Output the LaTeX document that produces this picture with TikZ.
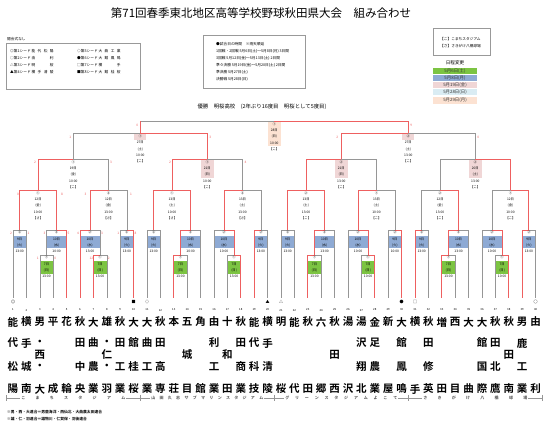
\documentclass[tikz,border=0pt]{standalone}
\usepackage{fontspec}
\setmainfont{Noto Sans CJK JP}[BoldFont=* Bold]
\usetikzlibrary{calc}
\definecolor{winRed}{RGB}{238,96,96}
\definecolor{lineGray}{RGB}{150,150,150}
\definecolor{dayGreen}{RGB}{124,196,66}
\definecolor{dayBlue}{RGB}{142,170,212}
\definecolor{dayPink}{RGB}{240,214,214}
\definecolor{dayCyan}{RGB}{218,236,243}
\definecolor{dayPeach}{RGB}{252,226,210}

\begin{document}
\begin{tikzpicture}[x=1pt, y=-1pt,
  lose/.style={draw=lineGray, line width=0.45pt},
  win/.style={draw=winRed, line width=0.9pt},
  card/.style={align=center, inner sep=0pt, anchor=north, font=\fontsize{3.3}{6.3}\selectfont},
  team/.style={inner sep=0pt, font=\fontsize{10.5}{11}\selectfont\bfseries},
  seedsym/.style={inner sep=0pt, font=\fontsize{4}{4}\selectfont},
  tnum/.style={inner sep=0pt, font=\fontsize{2.8}{3}\selectfont},
  legendtxt/.style={inner sep=0pt, anchor=west, font=\fontsize{3.7}{4}\selectfont},
  daybar/.style={inner sep=0pt, minimum width=44pt, minimum height=6.5pt, font=\fontsize{4.4}{5}\selectfont, text=black!80},
  venue/.style={fill=white, inner sep=1pt, font=\fontsize{4}{4}\selectfont\bfseries, text=black!70},
  frame/.style={draw=black!40, line width=0.4pt}
]
\useasboundingbox (0,0) rectangle (550,427);
\fill[white] (0,0) rectangle (550,427);

% title and notes
\node (title) at (261,13) {\fontsize{11.5}{12}\selectfont 第71回春季東北地区高等学校野球秋田県大会　組み合わせ};
\node[legendtxt] (noopen) at (7,39) {開会式なし};
\draw[frame] (6,43) rectangle (140,89);
\node[legendtxt] (seed1) at (10,51) {◎第1シード\ \makebox[22pt][s]{能\hfill 代\hfill 松\hfill 陽}};
\node[legendtxt] (seed2) at (10,58) {○第2シード\ \makebox[22pt][s]{由\hfill 利}};
\node[legendtxt] (seed3) at (10,65) {△第3シード\ \makebox[22pt][s]{明\hfill 桜}};
\node[legendtxt] (seed4) at (10,72) {▲第4シード\ \makebox[22pt][s]{横\hfill 手\hfill 清\hfill 陵}};
\node[legendtxt] (seed5) at (77,51) {◇第5シード\ \makebox[22pt][s]{大\hfill 曲\hfill 工\hfill 業}};
\node[legendtxt] (seed6) at (77,58) {●第6シード\ \makebox[22pt][s]{大\hfill 館\hfill 鳳\hfill 鳴}};
\node[legendtxt] (seed7) at (77,65) {□第7シード\ \makebox[22pt][s]{横\hfill 手}};
\node[legendtxt] (seed8) at (77,72) {■第8シード\ \makebox[22pt][s]{大\hfill 館\hfill 桂\hfill 桜}};

\draw[frame] (203,35) rectangle (305,88);
\node[legendtxt] (sched1) at (216,44) {●試合日の時間　※雨天順延};
\node[legendtxt] (sched2) at (216,51.5) {1回戦・2回戦 5月6日(土)～5月8日(月) 3日間};
\node[legendtxt] (sched3) at (216,58.5) {3回戦 5月12日(金)～5月13日(土) 2日間};
\node[legendtxt] (sched4) at (216,65.5) {準々決勝 5月19日(金)～5月20日(土) 2日間};
\node[legendtxt] (sched5) at (216,72.5) {準決勝 5月27日(土)};
\node[legendtxt] (sched6) at (216,79.5) {決勝戦 5月28日(日)};

\draw[frame] (433,28) rectangle (490,55);
\node[legendtxt] (ground1) at (440,39) {【こ】こまちスタジアム};
\node[legendtxt] (ground2) at (440,46) {【さ】さきがけ八橋球場};

\node[font=\fontsize{4.6}{5}\selectfont] (change) at (455,63) {日程変更};
\node[daybar, fill=dayGreen] (d6) at (455,70.8) {5月6日(土)};
\node[daybar, fill=dayBlue] (d8) at (455,77.8) {5月8日(月)};
\node[daybar, fill=dayPink] (d19) at (455,84.8) {5月19日(金)};
\node[daybar, fill=dayCyan] (d28) at (455,91.8) {5月28日(日)};
\node[daybar, fill=dayPeach] (d29) at (455,100.5) {5月29日(月)};

\node[font=\fontsize{5.4}{6}\selectfont] (champ) at (262,107) {優勝　明桜高校　(2年ぶり16度目　明桜として5度目)};

% colour bands of the early rounds
\foreach \l/\r in {13/26.4, 46.5/66.6, 80/100.1, 120.2/133.6, 147/160.4, 180.5/200.6, 214/234.1, 254.2/267.6,
                   281/294.4, 314.5/334.6, 348/368.1, 388.2/401.6, 415/428.4, 448.5/468.6, 482/502.1, 522.2/535.6}
  \fill[dayBlue] (\l,236.5) rectangle (\r,248);
\foreach \l in {39.8, 93.4, 173.8, 227.4, 307.8, 361.4, 441.8, 495.4}
  \fill[dayGreen] ({\l},261.5) rectangle ({\l+13.4},274.5);
\foreach \c in {207.3, 341.3, 475.3}
  \fill[dayPink] ({\c-6.5},159.6) rectangle ({\c+6.5},178.5);
\foreach \c in {140.3, 408.3}
  \fill[dayPink] ({\c-6},133.6) rectangle ({\c+6},140.5);
\fill[dayPeach] (267.8,121.6) rectangle (280.8,146.5);

% bracket points
\foreach \i in {1,...,40}
  \coordinate (t\i) at ({13+13.4*(\i-1)},298);
\foreach \n/\x in {1/46.5, 2/100.1, 3/180.5, 4/234.1, 5/314.5, 6/368.1, 7/448.5, 8/502.1}
  \coordinate (g\n) at (\x,255);
\foreach \n/\x in {1/19.7, 2/56.55, 3/90.05, 4/126.9, 5/153.7, 6/190.55, 7/224.05, 8/260.9,
                   9/287.7, 10/324.55, 11/358.05, 12/394.9, 13/421.7, 14/458.55, 15/492.05, 16/528.9}
  \coordinate (m\n) at (\x,230);
\foreach \n/\x in {1/38.1, 2/108.5, 3/172.1, 4/242.5, 5/306.1, 6/376.5, 7/440.1, 8/510.5}
  \coordinate (r\n) at (\x,190);
\foreach \n/\x in {1/73.3, 2/207.3, 3/341.3, 4/475.3}
  \coordinate (q\n) at (\x,159);
\coordinate (s1) at (140.3,133);
\coordinate (s2) at (408.3,133);
\coordinate (fin) at (274.3,121);

% first round
\draw[lose] (t3) |- (g1);  \draw[lose] (t4) |- (g1);
\draw[lose] (t8) |- (g2);  \draw[win] (t7) |- (g2);
\draw[lose] (t14) |- (g3); \draw[win] (t13) |- (g3);
\draw[lose] (t17) |- (g4); \draw[win] (t18) |- (g4);
\draw[lose] (t24) |- (g5); \draw[win] (t23) |- (g5);
\draw[lose] (t27) |- (g6); \draw[win] (t28) |- (g6);
\draw[lose] (t34) |- (g7); \draw[win] (t33) |- (g7);
\draw[lose] (t37) |- (g8); \draw[win] (t38) |- (g8);
% second round
\draw[lose] (t2) |- (m1);  \draw[lose] (t1) |- (m1);
\draw[lose] (g1) |- (m2);  \draw[win] (t5) |- (m2);
\draw[lose] (g2) |- (m3);  \draw[win] (t6) |- (m3);
\draw[lose] (t9) |- (m4);  \draw[win] (t10) |- (m4);
\draw[lose] (t12) |- (m5); \draw[lose] (t11) |- (m5);
\draw[lose] (t15) |- (m6); \draw[win] (g3) |- (m6);
\draw[lose] (t16) |- (m7); \draw[win] (g4) |- (m7);
\draw[lose] (t20) |- (m8); \draw[win] (t19) |- (m8);
\draw[lose] (t22) |- (m9); \draw[lose] (t21) |- (m9);
\draw[lose] (t25) |- (m10); \draw[win] (g5) |- (m10);
\draw[lose] (t26) |- (m11); \draw[win] (g6) |- (m11);
\draw[lose] (t29) |- (m12); \draw[win] (t30) |- (m12);
\draw[lose] (t32) |- (m13); \draw[win] (t31) |- (m13);
\draw[lose] (t35) |- (m14); \draw[win] (g7) |- (m14);
\draw[lose] (t36) |- (m15); \draw[win] (g8) |- (m15);
\draw[lose] (t40) |- (m16); \draw[win] (t39) |- (m16);
% third round
\draw[win] (m1) |- (r1);   \draw[win] (m2) |- (r1);
\draw[lose] (m4) |- (r2);  \draw[win] (m3) |- (r2);
\draw[win] (m5) |- (r3);   \draw[win] (m6) |- (r3);
\draw[lose] (m8) |- (r4);  \draw[win] (m7) |- (r4);
\draw[win] (m10) |- (r5);  \draw[win] (m9) |- (r5);
\draw[lose] (m12) |- (r6); \draw[win] (m11) |- (r6);
\draw[lose] (m13) |- (r7); \draw[win] (m14) |- (r7);
\draw[lose] (m15) |- (r8); \draw[win] (m16) |- (r8);
% quarter finals
\draw[lose] (r2) |- (q1); \draw[win] (r1) |- (q1);
\draw[lose] (r4) |- (q2); \draw[win] (r3) |- (q2);
\draw[lose] (r6) |- (q3); \draw[win] (r5) |- (q3);
\draw[lose] (r7) |- (q4); \draw[win] (r8) |- (q4);
% semi finals and final
\draw[lose] (q1) |- (s1); \draw[win] (q2) |- (s1);
\draw[lose] (q4) |- (s2); \draw[win] (q3) |- (s2);
\draw[lose] (s1 |- fin) -- (fin); \draw[win] (s1) -- (s1 |- fin);
\draw[win] (s2) |- (fin);

% scores
\tikzset{score/.style={inner sep=0pt, text=winRed, font=\fontsize{3.2}{3.2}\selectfont}}
\foreach \x/\y/\s [count=\k] in {11/233/2, 28.4/233/1, 44.5/233/3, 68.6/233/5, 78/233/4, 102.1/233/3,
    118.2/233/1, 135.6/233/8, 37.8/258/1, 55.2/258/0, 91.4/258/12, 108.8/258/2,
    18/194/0, 62/194/8, 85.5/194/3, 131/194/1, 35/162/2, 111/162/3, 70.3/137/1, 210.3/137/3,
    137.3/125/0, 411.3/125/9, 170/162/2, 245.5/162/4, 337.3/137/2, 478.3/137/0}
  \node[score] (sc\k) at (\x,\y) {\s};

% match cards
\foreach \n/\x/\d/\w/\t in {1/46.5/7/日/13:00, 2/100.1/7/日/13:00, 3/180.5/7/日/13:00, 4/234.1/7/日/13:00,
                            5/314.5/7/日/13:00, 6/368.1/7/日/10:00, 7/448.5/7/日/13:00, 8/502.1/7/日/10:00}
  \node[card] (cg\n) at (\x,255.8) {①\\{\d}日\\({\w})\\{\t}};
\foreach \n/\x/\d/\w/\t in {1/19.7/9/火/13:00, 2/56.55/10/水/10:00, 3/90.05/10/水/13:00, 4/126.9/9/火/13:00,
                            5/153.7/9/火/13:00, 6/190.55/10/水/10:00, 7/224.05/10/水/10:00, 8/260.9/9/火/13:00,
                            9/287.7/9/火/13:00, 10/324.55/10/水/13:00, 11/358.05/10/水/10:00, 12/394.9/9/火/10:00,
                            13/421.7/9/火/13:00, 14/458.55/10/水/13:00, 15/492.05/10/水/10:00, 16/528.9/9/火/13:00}
  \node[card] (cm\n) at (\x,230.8) {②\\{\d}日\\({\w})\\{\t}};
\foreach \n/\x/\k/\d/\w/\t/\v in {1/38.1/①/12/金/10:00/さ, 2/108.5/②/12/金/13:00/さ, 3/172.1/①/13/土/10:00/さ,
                                  4/242.5/②/13/土/13:00/さ, 5/306.1/②/13/土/13:00/こ, 6/376.5/①/13/土/10:00/こ,
                                  7/440.1/②/12/金/13:00/こ, 8/510.5/①/12/金/10:00/こ}
  \node[card] (cr\n) at (\x,191.2) {{\k}\\{\d}日\\({\w})\\{\t}\\【{\v}】};
\foreach \n/\x/\k/\d/\w/\t in {1/73.3/①/19/金/10:00, 2/207.3/①/21/日/10:00, 3/341.3/②/21/日/13:00, 4/475.3/②/20/土/13:00}
  \node[card] (cq\n) at (\x,160.2) {{\k}\\{\d}日\\({\w})\\{\t}\\【こ】};
\node[card] (cs1) at (140.3,134.5) {①\\27日\\(土)\\10:00\\【こ】};
\node[card] (cs2) at (408.3,134.5) {②\\27日\\(土)\\13:00\\【こ】};
\node[card] (cf) at (274.3,122.4) {①\\28日\\(日)\\10:00\\【こ】};

% seeds, numbers and schools
\node[seedsym] (sym1) at (13,302) {◎};
\node[seedsym] (sym10) at (133.6,302) {■};
\node[seedsym] (sym11) at (147,302) {◇};
\node[seedsym] (sym20) at (267.6,302) {▲};
\node[seedsym] (sym21) at (281,302) {△};
\node[seedsym] (sym30) at (401.6,302) {●};
\node[seedsym] (sym31) at (415,302) {□};
\node[seedsym] (sym40) at (535.6,302) {○};
\foreach \i in {1,...,40}
  \node[tnum] (no\i) at ({13+13.4*(\i-1)},310) {\i};
\foreach \i/\a/\b/\c/\d/\e in {1/能/代//松/陽, 2/横/手//城/南, 3/男/・/西/・/大, 4/平////成, 5/花////輪,
    6/秋/田//中/央, 7/大/曲//農/業, 8/雄/・/仁/・/羽, 9/秋/田//工/業, 10/大/館//桂/桜,
    11/大/曲//工/業, 12/秋/田//高/専, 13/本////荘, 14/五//城//目, 15/角////館,
    16/由/利//工/業, 17/十//和//田, 18/秋/田//商/業, 19/能/代//科/技, 20/横/手//清/陵,
    21/明////桜, 22/能////代, 23/秋////田, 24/六////郷, 25/秋//田//西,
    26/湯////沢, 27/湯/沢//翔/北, 28/金/足//農/業, 29/新////屋, 30/大/館//鳳/鳴,
    31/横////手, 32/秋/田//修/英, 33/増////田, 34/西////目, 35/大////曲,
    36/大/館//国/際, 37/秋/田//北/鷹, 38/秋//田//南, 39/男/鹿//工/業, 40/由////利} {
  \node[team] (n\i-1) at ({13+13.4*(\i-1)},322) {\a};
  \node[team] (n\i-2) at ({13+13.4*(\i-1)},343) {\b};
  \node[team] (n\i-3) at ({13+13.4*(\i-1)},355) {\c};
  \node[team] (n\i-4) at ({13+13.4*(\i-1)},367) {\d};
  \node[team] (n\i-5) at ({13+13.4*(\i-1)},389) {\e};
}

% grounds
\draw[lose] (6,398) -- (542,398);
\foreach \x in {6, 140.3, 274.3, 408.3, 542}
  \draw[lose] (\x,395) -- (\x,401);
\node[venue] (v1) at (73.3,398) {\makebox[104pt][s]{こ\hfill ま\hfill ち\hfill ス\hfill タ\hfill ジ\hfill ア\hfill ム}};
\node[venue] (v2) at (207.3,398) {\makebox[112pt][s]{山\hfill 田\hfill 久\hfill 志\hfill サ\hfill ブ\hfill マ\hfill リ\hfill ン\hfill ス\hfill タ\hfill ジ\hfill ア\hfill ム}};
\node[venue] (v3) at (341.3,398) {\makebox[112pt][s]{グ\hfill リ\hfill ー\hfill ン\hfill ス\hfill タ\hfill ジ\hfill ア\hfill ム\hfill よ\hfill こ\hfill て}};
\node[venue] (v4) at (475.3,398) {\makebox[104pt][s]{さ\hfill き\hfill が\hfill け\hfill 八\hfill 橋\hfill 球\hfill 場}};

\node[legendtxt, font=\fontsize{3.8}{4}\selectfont\bfseries] (foot1) at (7,412) {※男・西・大連合＝男鹿海洋・西仙北・大曲農太田連合};
\node[legendtxt, font=\fontsize{3.8}{4}\selectfont\bfseries] (foot2) at (7,419) {※雄・仁・羽連合＝雄物川・仁賀保・羽後連合};
\end{tikzpicture}
\end{document}
